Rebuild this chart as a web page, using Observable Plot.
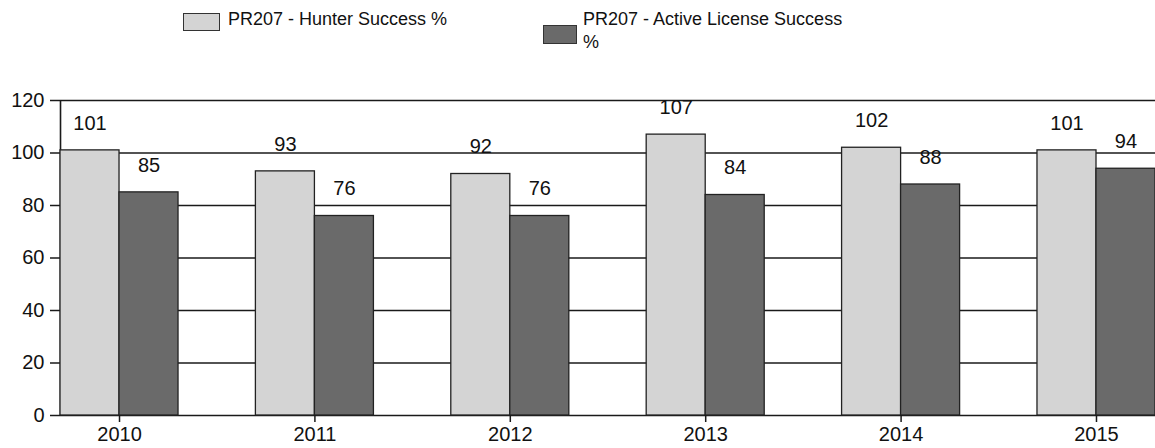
<!DOCTYPE html>
<html>
<head>
<meta charset="utf-8">
<script src="https://cdn.jsdelivr.net/npm/d3@7"></script>
<script src="https://cdn.jsdelivr.net/npm/@observablehq/plot@0.6"></script>
<style>
  html, body { margin: 0; padding: 0; background: #fff; }
  body { width: 1155px; height: 448px; overflow: hidden; font-family: "Liberation Sans", Arial, sans-serif; color: #111; }
  #legend { position: relative; height: 90px; width: 1155px; font-size: 18px; }
  .sw { position: absolute; border: 1.5px solid #333; box-sizing: border-box; }
  .lt { position: absolute; line-height: 23px; }
  #chart svg { display: block; }
</style>
</head>
<body>
<div id="legend"></div>
<div id="chart"></div>
<script>
const years = ["2010", "2011", "2012", "2013", "2014", "2015"];
const hunterSuccess = [101, 93, 92, 107, 102, 101];
const activeLicenseSuccess = [85, 76, 76, 84, 88, 94];
const seriesNames = ["PR207 - Hunter Success %", "PR207 - Active License Success %"];
const seriesColors = ["#d4d4d4", "#6a6a6a"];
const yTicks = [0, 20, 40, 60, 80, 100, 120];

const hunter = years.map((y, i) => ({year: y, value: hunterSuccess[i]}));
const active = years.map((y, i) => ({year: y, value: activeLicenseSuccess[i]}));

// Legend (HTML, above the SVG)
const legend = document.getElementById("legend");
legend.innerHTML = `
  <div class="sw" style="left:183px;top:13px;width:37px;height:18px;background:${seriesColors[0]}"></div>
  <div class="lt" style="left:228px;top:8px;white-space:nowrap">${seriesNames[0]}</div>
  <div class="sw" style="left:543px;top:25px;width:34px;height:19px;background:${seriesColors[1]}"></div>
  <div class="lt" style="left:583px;top:8px;width:265px">${seriesNames[1]}</div>
`;

const half = 59;
const chart = Plot.plot({
  width: 1155,
  height: 358,
  marginLeft: 60,
  marginRight: 0,
  marginTop: 10,
  marginBottom: 33,
  style: {fontFamily: "Liberation Sans, Arial, sans-serif", fontSize: "20px", color: "#111", background: "#fff"},
  x: {type: "band", domain: years, paddingInner: 0.396, paddingOuter: 0, round: false, label: null},
  y: {domain: [0, 120], ticks: yTicks, label: null},
  marks: [
    Plot.ruleY(yTicks, {stroke: "#1a1a1a", strokeWidth: 1.6}),
    Plot.ruleX([0], {x: () => years[0], dx: -half, y1: 0, y2: 120, stroke: "#1a1a1a", strokeWidth: 1.6}),
    Plot.barY(hunter, {x: "year", y: "value", insetRight: half, fill: seriesColors[0], stroke: "#222", strokeWidth: 1.3}),
    Plot.barY(active, {x: "year", y: "value", insetLeft: half, fill: seriesColors[1], stroke: "#222", strokeWidth: 1.3}),
    Plot.text(hunter, {x: "year", y: "value", text: d => String(d.value), dx: -half / 2, dy: -27, fill: "#111", fontSize: 20}),
    Plot.text(active, {x: "year", y: "value", text: d => String(d.value), dx: half / 2, dy: -27, fill: "#111", fontSize: 20}),
    Plot.axisY({ticks: yTicks, tickSize: 10, tickPadding: 6, stroke: "#1a1a1a", strokeWidth: 1.5, fontSize: 20, label: null}),
    Plot.axisX({tickSize: 7, tickPadding: 4, stroke: "#1a1a1a", strokeWidth: 1.5, fontSize: 20, label: null})
  ]
});
document.getElementById("chart").appendChild(chart);
</script>
</body>
</html>
